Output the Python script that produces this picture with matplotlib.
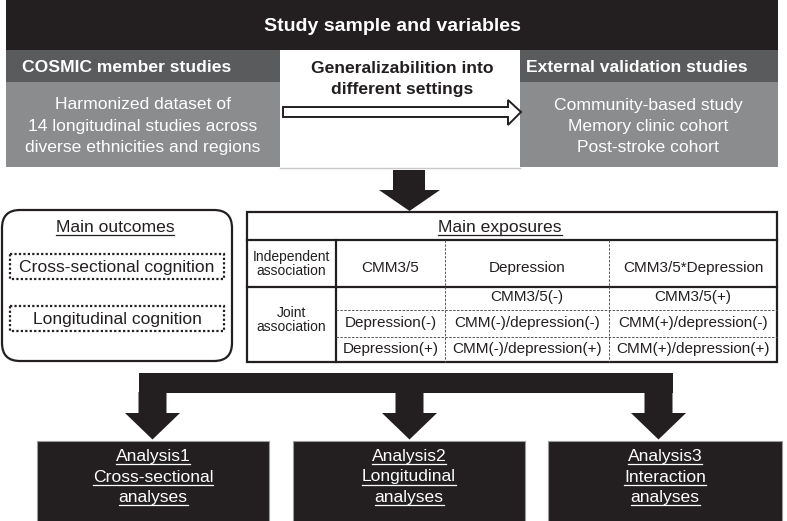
import matplotlib
matplotlib.use("Agg")
import matplotlib.pyplot as plt
from matplotlib.patches import Rectangle, FancyBboxPatch, Polygon

plt.rcParams['font.family'] = ['Liberation Sans', 'DejaVu Sans']

# ---------------- data (texts) ----------------
header_title = "Study sample and variables"
left_title = "COSMIC member studies"
left_lines = ["Harmonized dataset of", "14 longitudinal studies across",
              "diverse ethnicities and regions"]
mid_lines = ["Generalizabilition into", "different settings"]
right_title = "External validation studies"
right_lines = ["Community-based study", "Memory clinic cohort", "Post-stroke cohort"]

outcomes_title = "Main outcomes"
outcomes = ["Cross-sectional cognition", "Longitudinal cognition"]

exposures_title = "Main exposures"
row_headers = ["Independent\nassociation", "Joint\nassociation"]
independent_cells = ["CMM3/5", "Depression", "CMM3/5*Depression"]
joint_col_headers = ["", "CMM3/5(-)", "CMM3/5(+)"]
joint_rows = [["Depression(-)", "CMM(-)/depression(-)", "CMM(+)/depression(-)"],
              ["Depression(+)", "CMM(-)/depression(+)", "CMM(+)/depression(+)"]]

analyses = [["Analysis1", "Cross-sectional", "analyses"],
            ["Analysis2", "Longitudinal", "analyses"],
            ["Analysis3", "Interaction", "analyses"]]

# ---------------- layout ----------------
BLACK = "#231f20"
DGREY = "#5a5b5d"
LGREY = "#8b8c8e"

fig = plt.figure(figsize=(7.87, 5.21), dpi=100)
ax = fig.add_axes([0, 0, 1, 1])
ax.set_xlim(0, 787)
ax.set_ylim(521, 0)
ax.axis('off')

underlines = []  # (text artist, baseline y, color)


def rect(x0, y0, x1, y1, **kw):
    ax.add_patch(Rectangle((x0, y0), x1 - x0, y1 - y0, **kw))


def txt(x, y, s, size=12.6, color=BLACK, bold=False, ha='center', va='baseline',
        underline=False, **kw):
    t = ax.text(x, y, s, fontsize=size, color=color, ha=ha, va=va,
                fontweight='bold' if bold else 'normal', **kw)
    if underline:
        underlines.append((t, y, color))
    return t


# header
rect(6, 0, 778, 50, facecolor=BLACK, edgecolor='none')
txt(392, 31, header_title, size=14, color='white', bold=True)

# grey panels
rect(6, 50, 280, 82, facecolor=DGREY, edgecolor='none')
rect(6, 82, 280, 167, facecolor=LGREY, edgecolor='none')
rect(520, 50, 778, 82, facecolor=DGREY, edgecolor='none')
rect(520, 82, 778, 167, facecolor=LGREY, edgecolor='none')
ax.plot([280, 520], [167.5, 167.5], color='#c8c8c8', lw=1.0)

txt(22, 72, left_title, color='white', bold=True, ha='left')
txt(526, 72, right_title, color='white', bold=True, ha='left')
for i, s in enumerate(left_lines):
    txt(143, 109 + 21.5 * i, s, color='white')
for i, s in enumerate(right_lines):
    txt(648, 110 + 21 * i, s, color='white')
for i, s in enumerate(mid_lines):
    txt(402, 73 + 21 * i, s, bold=True)

# hollow arrow
ax.add_patch(Polygon([(283, 107), (508, 107), (508, 100), (521, 112), (508, 125),
                      (508, 117), (283, 117)], closed=True, facecolor='white',
                     edgecolor=BLACK, lw=1.4, joinstyle='miter'))

# down arrow
ax.add_patch(Polygon([(393, 170), (425, 170), (425, 190), (440, 190), (409.5, 211),
                      (379, 190), (393, 190)], closed=True, facecolor=BLACK,
                     edgecolor='none'))

# main outcomes box
ax.add_patch(FancyBboxPatch((2, 210), 230, 151, boxstyle="round,pad=0,rounding_size=18",
                            facecolor='white', edgecolor=BLACK, lw=1.6))
txt(115, 232, outcomes_title, underline=True)
for (y0, y1), s, yb in zip([(254, 279), (306, 331)], outcomes, [272, 324]):
    rect(10, y0, 224, y1, facecolor='none', edgecolor=BLACK, lw=1.6, linestyle=(0, (1, 1)))
    txt(117, yb, s)

# exposures table
TX0, TX1, TY0, TY1 = 247, 777, 212, 362
rect(TX0, TY0, TX1, TY1, facecolor='white', edgecolor=BLACK, lw=1.6)
ax.plot([TX0, TX1], [240, 240], color=BLACK, lw=1.6)
ax.plot([TX0, TX1], [287, 287], color=BLACK, lw=1.6)
ax.plot([336, 336], [240, TY1], color=BLACK, lw=1.6)
col_x = [390.5, 527, 693]
for xv in [445, 609]:
    ax.plot([xv, xv], [240, TY1], color='#555555', lw=0.7, linestyle=(0, (2.5, 1.5)))
for yv in [310, 337]:
    ax.plot([336, TX1], [yv, yv], color='#555555', lw=0.7, linestyle=(0, (2.5, 1.5)))
txt(500, 232, exposures_title, underline=True)
txt(291.5, 264, row_headers[0], size=10, va='center', linespacing=1.05)
txt(291.5, 320, row_headers[1], size=10, va='center', linespacing=1.05)
for xv, s in zip(col_x, independent_cells):
    txt(xv, 272, s, size=11)
for xv, s in zip(col_x, joint_col_headers):
    if s:
        txt(xv, 301, s, size=11)
for r, row in enumerate(joint_rows):
    for xv, s in zip(col_x, row):
        txt(xv, 327 + 26 * r, s, size=11)

# branching arrows
branch_x = [152.5, 409.5, 658.5]
rect(branch_x[0] - 14, 373, branch_x[-1] + 14, 393, facecolor=BLACK, edgecolor='none')
for bx in branch_x:
    ax.add_patch(Polygon([(bx - 14, 392), (bx + 14, 392), (bx + 14, 413), (bx + 27.5, 413),
                          (bx, 439.5), (bx - 27.5, 413), (bx - 14, 413)], closed=True,
                         facecolor=BLACK, edgecolor='none'))

# analysis boxes
box_x = [(37, 269), (293, 525), (548, 782)]
for (x0, x1), lines in zip(box_x, analyses):
    rect(x0, 441, x1, 523, facecolor=BLACK, edgecolor='#9a9a9a', lw=0.8)
    cx = (x0 + x1) / 2
    for i, s in enumerate(lines):
        txt(cx, 461 + 20.5 * i, s, color='white', underline=True)

# underlines
fig.canvas.draw()
renderer = fig.canvas.get_renderer()
inv = ax.transData.inverted()
for t, yb, c in underlines:
    bb = t.get_window_extent(renderer)
    (xa, _), (xb, _) = inv.transform([(bb.x0, bb.y0), (bb.x1, bb.y1)])
    ax.plot([xa, xb], [yb + 3, yb + 3], color=c, lw=0.9)

fig.savefig("out.png", dpi=100)
